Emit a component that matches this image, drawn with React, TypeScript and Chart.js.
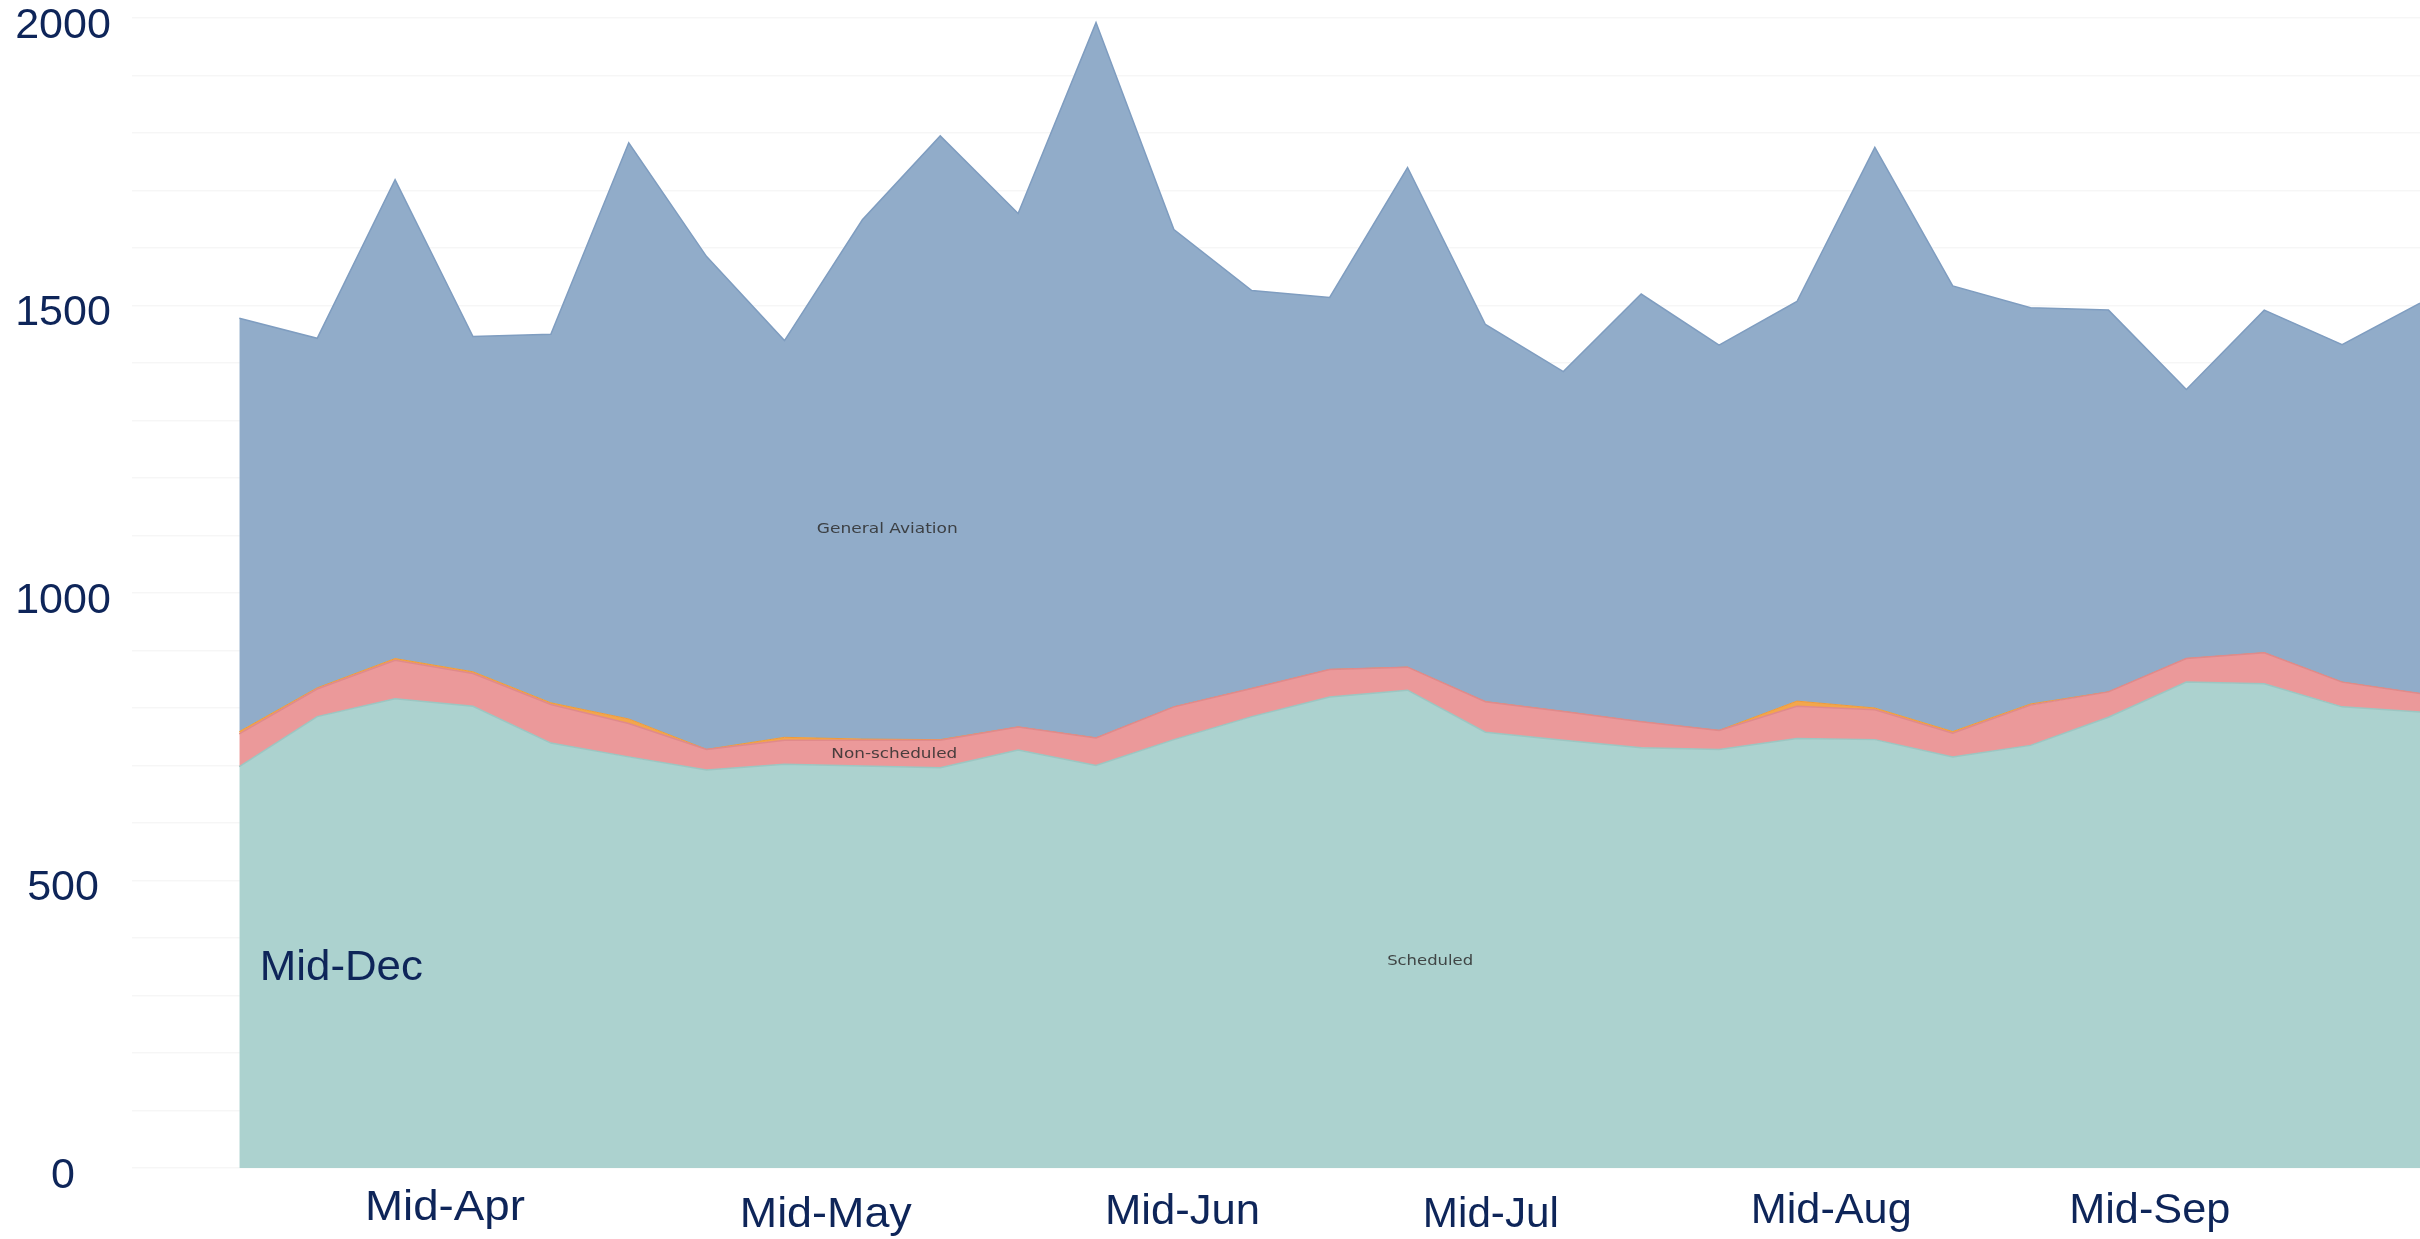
import React, { useEffect, useRef } from "react";
import { Chart, registerables } from "chart.js";

Chart.register(...registerables);

// ---- Data (weekly movements, stacked) ----
const weekIndex = [0,1,2,3,4,5,6,7,8,9,10,11,12,13,14,15,16,17,18,19,20,21,22,23,24,25,26,27,28];
const scheduled = [698,785,816,803,739,715,692,702,699,696,727,700,745,785,819,831,758,744,731,728,747,745,715,735,784,845,842,802,793];
const nonScheduled = [57,48,67,57,67,58,36,42,45,48,40,48,57,49,48,40,53,50,45,33,56,52,41,70,44,41,54,43,32];
const other = [4,2,3,3,3,8,0,5,2,1,0,0,0,0,0,0,0,0,0,0,9,3,3,2,0,0,0,0,0];
const generalAviation = [719,608,833,583,641,1002,857,690,903,1050,893,1244,830,692,647,869,656,591,744,670,695,975,775,689,664,468,596,587,679];

const yTickValues = [0, 500, 1000, 1500, 2000];
const monthLabels = ["Mid-Apr", "Mid-May", "Mid-Jun", "Mid-Jul", "Mid-Aug", "Mid-Sep"];
const monthAt = [2.64, 7.53, 12.11, 16.07, 20.44, 24.53];
const seriesNames = ["Scheduled", "Non-scheduled", "Other", "General Aviation"];

// ---- Layout / style (kept separate from data) ----
const W = 2420;
const H = 1239;
const NAVY = "#0e2559";
const monthBaselines = [1220, 1227, 1224, 1227, 1223, 1223];
const monthWidths = [160, 172, 155, 136, 161, 161];
const inner = [
  { text: "General Aviation", x: 8.32, v: 1113, w: 141 },
  { text: "Non-scheduled", x: 8.41, v: 722, w: 126 },
  { text: "Scheduled", x: 15.29, v: 362, w: 86 },
];
const decLabel = { text: "Mid-Dec", x: 1.31, baseline: 980, w: 163 };

function pts(arr: number[]) {
  return arr.map((v, i) => ({ x: weekIndex[i], y: v }));
}

function drawFit(
  ctx: CanvasRenderingContext2D,
  text: string,
  cx: number,
  baseY: number,
  font: string,
  targetW: number,
  color: string
) {
  ctx.save();
  ctx.font = font;
  const w = ctx.measureText(text).width || 1;
  const s = targetW / w;
  ctx.translate(cx, baseY);
  ctx.scale(s, 1);
  ctx.textAlign = "center";
  ctx.textBaseline = "alphabetic";
  ctx.fillStyle = color;
  ctx.fillText(text, 0, 0);
  ctx.restore();
}

const textPlugin = {
  id: "textPlugin",
  afterDraw(chart: any) {
    const ctx: CanvasRenderingContext2D = chart.ctx;
    const xs = chart.scales.x;
    const ys = chart.scales.y;
    ctx.save();
    ctx.font = "43px 'Liberation Sans', Arial, sans-serif";
    ctx.fillStyle = NAVY;
    ctx.textAlign = "center";
    ctx.textBaseline = "middle";
    yTickValues.forEach((v) => {
      ctx.fillText(String(v), 63, ys.getPixelForValue(v) + 8);
    });
    ctx.restore();

    const bigFont = "42px 'Liberation Sans Narrow', 'Arial Narrow', 'Liberation Sans', sans-serif";
    monthLabels.forEach((m, i) => {
      drawFit(ctx, m, xs.getPixelForValue(monthAt[i]), monthBaselines[i], bigFont, monthWidths[i], NAVY);
    });
    drawFit(ctx, decLabel.text, xs.getPixelForValue(decLabel.x), decLabel.baseline, bigFont, decLabel.w, NAVY);

    inner.forEach((l) => {
      drawFit(
        ctx,
        l.text,
        xs.getPixelForValue(l.x),
        ys.getPixelForValue(l.v) + 5,
        "14px 'DejaVu Sans', sans-serif",
        l.w,
        "rgba(45,45,45,0.85)"
      );
    });
  },
};

export default function App() {
  const ref = useRef<HTMLCanvasElement | null>(null);

  useEffect(() => {
    document.body.style.margin = "0";
    const canvas = ref.current;
    if (!canvas) return;
    const chart = new Chart(canvas, {
      type: "line",
      data: {
        datasets: [
          {
            label: seriesNames[0],
            data: pts(scheduled),
            backgroundColor: "#acd2cf",
            borderColor: "#9cc6c2",
            borderWidth: 1.5,
            fill: "origin",
            pointRadius: 0,
            tension: 0,
          },
          {
            label: seriesNames[1],
            data: pts(nonScheduled),
            backgroundColor: "#eb999a",
            borderColor: "#e08a8c",
            borderWidth: 1.5,
            fill: "-1",
            pointRadius: 0,
            tension: 0,
          },
          {
            label: seriesNames[2],
            data: pts(other),
            backgroundColor: "#f3a64c",
            borderColor: "#ee9a3a",
            borderWidth: 1,
            fill: "-1",
            pointRadius: 0,
            tension: 0,
          },
          {
            label: seriesNames[3],
            data: pts(generalAviation),
            backgroundColor: "#91acc9",
            borderColor: "#7f9dc0",
            borderWidth: 1.5,
            fill: "-1",
            pointRadius: 0,
            tension: 0,
          },
        ],
      },
      options: {
        responsive: false,
        animation: false,
        devicePixelRatio: 1,
        layout: { padding: { left: 132, right: 0, top: 18, bottom: 71 } },
        plugins: {
          legend: { display: false },
          tooltip: { enabled: false },
        },
        scales: {
          x: {
            type: "linear",
            min: -1.378,
            max: 28,
            display: false,
          },
          y: {
            stacked: true,
            min: 0,
            max: 2000,
            z: 1,
            border: { display: false },
            grid: { color: "rgba(0,0,0,0.035)", lineWidth: 1.5, drawTicks: false },
            ticks: { display: false, stepSize: 100 },
            afterFit: (scale: any) => {
              scale.width = 0;
            },
          },
        },
      },
      plugins: [textPlugin],
    });
    return () => chart.destroy();
  }, []);

  return (
    <div style={{ position: "fixed", left: 0, top: 0, width: W, height: H, background: "#fff" }}>
      <canvas ref={ref} width={W} height={H} style={{ display: "block", width: W, height: H }} />
    </div>
  );
}
